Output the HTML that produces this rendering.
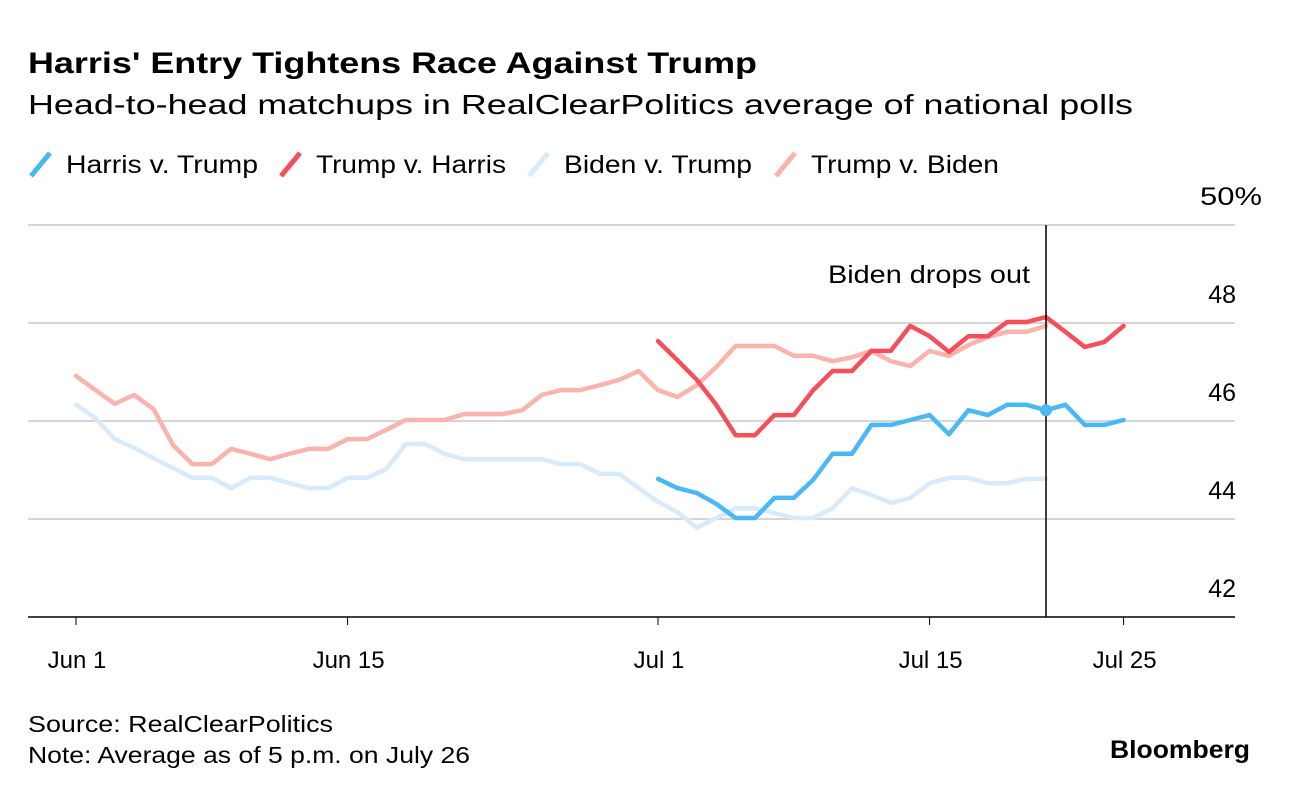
<!DOCTYPE html>
<html><head><meta charset="utf-8"><style>
body{margin:0;background:#fff;width:1289px;height:794px;overflow:hidden;font-family:"Liberation Sans",sans-serif;}
</style></head><body>
<svg id="c" width="1289" height="794" xmlns="http://www.w3.org/2000/svg">
<text x="28" y="73" font-size="30" font-weight="bold" fill="#000" textLength="729" lengthAdjust="spacingAndGlyphs">Harris' Entry Tightens Race Against Trump</text>
<text x="28" y="114" font-size="28" fill="#000" textLength="1105" lengthAdjust="spacingAndGlyphs">Head-to-head matchups in RealClearPolitics average of national polls</text>
<g font-size="25" fill="#000">
<g><line x1="31" y1="176" x2="50" y2="153" stroke="#4ab8f5" stroke-width="5"/><text x="66" y="173" textLength="192" lengthAdjust="spacingAndGlyphs">Harris v. Trump</text></g>
<g><line x1="281" y1="176" x2="300" y2="153" stroke="#f54f5a" stroke-width="5"/><text x="316" y="173" textLength="190" lengthAdjust="spacingAndGlyphs">Trump v. Harris</text></g>
<g><line x1="529" y1="176" x2="548" y2="153" stroke="#d7ebfb" stroke-width="5"/><text x="564" y="173" textLength="188" lengthAdjust="spacingAndGlyphs">Biden v. Trump</text></g>
<g><line x1="776" y1="176" x2="795" y2="153" stroke="#fbb3ad" stroke-width="5"/><text x="811" y="173" textLength="188" lengthAdjust="spacingAndGlyphs">Trump v. Biden</text></g>
</g>
<g id="grid"></g><g id="series"></g><g id="ann"></g>
<text x="28" y="732" font-size="23" fill="#000" textLength="305" lengthAdjust="spacingAndGlyphs">Source: RealClearPolitics</text>
<text x="28" y="763" font-size="23" fill="#000" textLength="442" lengthAdjust="spacingAndGlyphs">Note: Average as of 5 p.m. on July 26</text>
<text x="1110" y="758" font-size="25" font-weight="bold" fill="#000" textLength="140" lengthAdjust="spacingAndGlyphs">Bloomberg</text>
</svg>
<script>
const yTicks=[42,44,46,48,50];
const yTickLabels=["42","44","46","48","50%"];
const xTickDays=[0,14,30,44,54];
const xTickLabels=["Jun 1","Jun 15","Jul 1","Jul 15","Jul 25"];
const eventDay=50;
const eventLabel="Biden drops out";
const trumpVBidenStart=0;
const trumpVBiden=[46.92,46.63,46.35,46.53,46.24,45.51,45.12,45.12,45.43,45.33,45.22,45.33,45.43,45.43,45.63,45.63,45.82,46.02,46.02,46.02,46.14,46.14,46.14,46.22,46.53,46.63,46.63,46.73,46.84,47.02,46.63,46.49,46.73,47.1,47.53,47.53,47.53,47.33,47.33,47.22,47.3,47.43,47.22,47.12,47.43,47.33,47.55,47.71,47.82,47.82,47.94];
const bidenVTrumpStart=0;
const bidenVTrump=[46.33,46.06,45.63,45.45,45.24,45.04,44.84,44.84,44.63,44.84,44.84,44.73,44.63,44.63,44.84,44.84,45.02,45.53,45.53,45.33,45.22,45.22,45.22,45.22,45.22,45.12,45.12,44.92,44.92,44.63,44.35,44.14,43.82,44.02,44.22,44.22,44.12,44.02,44.02,44.22,44.63,44.49,44.33,44.43,44.73,44.84,44.84,44.73,44.73,44.82,44.82];
const harrisVTrumpStart=30;
const harrisVTrump=[44.82,44.63,44.53,44.31,44.02,44.02,44.43,44.43,44.8,45.33,45.33,45.92,45.92,46.02,46.12,45.73,46.22,46.12,46.33,46.33,46.22,46.33,45.92,45.92,46.02];
const trumpVHarrisStart=30;
const trumpVHarris=[47.63,47.24,46.84,46.33,45.71,45.71,46.12,46.12,46.63,47.02,47.02,47.43,47.43,47.94,47.73,47.41,47.73,47.73,48.02,48.02,48.12,47.82,47.51,47.61,47.94];

const NS="http://www.w3.org/2000/svg";
const X=d=>76+19.4*d;
const Y=v=>617-(v-42)*49;
function mk(p,tag,at){const e=document.createElementNS(NS,tag);for(const k in at)e.setAttribute(k,at[k]);p.appendChild(e);return e;}
const grid=document.getElementById('grid');
yTicks.forEach((t,i)=>{
  if(t!==42){const l=mk(grid,'line',{x1:28,x2:1235,y1:Y(t),y2:Y(t),stroke:'#d6d6d6','stroke-width':2});
  
  }
  const isTop=(i===yTicks.length-1);
  const at={x:isTop?1200:1236,y:Y(t)-20,'font-size':25,'text-anchor':isTop?'start':'end',fill:'#000'};
  if(isTop){at.textLength=62;at.lengthAdjust='spacingAndGlyphs';}
  const tx=mk(grid,'text',at);
  tx.textContent=yTickLabels[i];
  
  
});
const ax=mk(grid,'line',{x1:28,x2:1235,y1:Y(42),y2:Y(42),stroke:'#000','stroke-width':1.5});


xTickDays.forEach((d,i)=>{
  const tk=mk(grid,'line',{x1:X(d),x2:X(d),y1:Y(42),y2:Y(42)+8,stroke:'#000','stroke-width':1});
  
  
  const tx=mk(grid,'text',{x:X(d)+1,y:668,'font-size':24,'text-anchor':'middle',fill:'#000'});
  tx.textContent=xTickLabels[i];
  
  
});
const ser=document.getElementById('series');
function line(vals,start,color,name){
  const pts=vals.map((v,i)=>X(start+i).toFixed(1)+','+Y(v).toFixed(1)).join(' ');
  const p=mk(ser,'polyline',{points:pts,fill:'none',stroke:color,'stroke-width':4.5,'stroke-linejoin':'round','stroke-linecap':'round'});
  
  
}
line(bidenVTrump,bidenVTrumpStart,'#d7ebfb','biden-v-trump-line');
line(trumpVBiden,trumpVBidenStart,'#fbb3ad','trump-v-biden-line');
line(harrisVTrump,harrisVTrumpStart,'#4ab8f5','harris-v-trump-line');
line(trumpVHarris,trumpVHarrisStart,'#f54f5a','trump-v-harris-line');
const ann=document.getElementById('ann');
const vl=mk(ann,'line',{x1:X(eventDay),x2:X(eventDay),y1:Y(50),y2:Y(42),stroke:'#000','stroke-width':1.5});


const dot=mk(ann,'circle',{cx:X(eventDay),cy:Y(harrisVTrump[eventDay-harrisVTrumpStart]),r:6,fill:'#4ab8f5'});


const et=mk(ann,'text',{x:X(eventDay)-16,y:283,'font-size':25,'text-anchor':'end',fill:'#000',textLength:202,lengthAdjust:'spacingAndGlyphs'});
et.textContent=eventLabel;


</script>
</body></html>
